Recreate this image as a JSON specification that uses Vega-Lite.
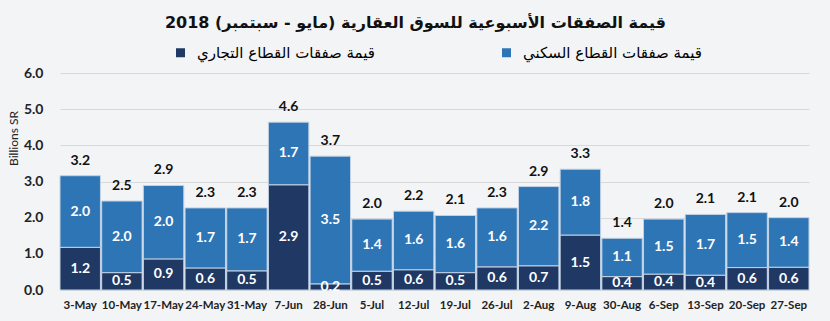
{
  "$schema": "https://vega.github.io/schema/vega-lite/v6.json",
  "width": 749,
  "height": 217,
  "autosize": {"type": "none"},
  "padding": {"left": 60, "top": 73, "right": 21, "bottom": 31},
  "background": "#f3f4f6",
  "title": {
    "text": "قيمة الصفقات الأسبوعية للسوق العقارية (مايو - سبتمبر) 2018",
    "font": "DejaVu Sans",
    "fontSize": 16,
    "fontWeight": "bold",
    "color": "#111111",
    "anchor": "middle",
    "offset": 14,
    "dx": -19
  },
  "config": {"view": {"stroke": null}},
  "data": {
    "values": [
      {"date": "3-May", "sector": "قيمة صفقات القطاع التجاري", "ord": 1, "value": 1.18},
      {"date": "3-May", "sector": "قيمة صفقات القطاع السكني", "ord": 2, "value": 1.98},
      {"date": "10-May", "sector": "قيمة صفقات القطاع التجاري", "ord": 1, "value": 0.48},
      {"date": "10-May", "sector": "قيمة صفقات القطاع السكني", "ord": 2, "value": 1.98},
      {"date": "17-May", "sector": "قيمة صفقات القطاع التجاري", "ord": 1, "value": 0.86},
      {"date": "17-May", "sector": "قيمة صفقات القطاع السكني", "ord": 2, "value": 2.03},
      {"date": "24-May", "sector": "قيمة صفقات القطاع التجاري", "ord": 1, "value": 0.61},
      {"date": "24-May", "sector": "قيمة صفقات القطاع السكني", "ord": 2, "value": 1.66},
      {"date": "31-May", "sector": "قيمة صفقات القطاع التجاري", "ord": 1, "value": 0.53},
      {"date": "31-May", "sector": "قيمة صفقات القطاع السكني", "ord": 2, "value": 1.74},
      {"date": "7-Jun", "sector": "قيمة صفقات القطاع التجاري", "ord": 1, "value": 2.91},
      {"date": "7-Jun", "sector": "قيمة صفقات القطاع السكني", "ord": 2, "value": 1.73},
      {"date": "28-Jun", "sector": "قيمة صفقات القطاع التجاري", "ord": 1, "value": 0.17},
      {"date": "28-Jun", "sector": "قيمة صفقات القطاع السكني", "ord": 2, "value": 3.53},
      {"date": "5-Jul", "sector": "قيمة صفقات القطاع التجاري", "ord": 1, "value": 0.52},
      {"date": "5-Jul", "sector": "قيمة صفقات القطاع السكني", "ord": 2, "value": 1.44},
      {"date": "12-Jul", "sector": "قيمة صفقات القطاع التجاري", "ord": 1, "value": 0.56},
      {"date": "12-Jul", "sector": "قيمة صفقات القطاع السكني", "ord": 2, "value": 1.62},
      {"date": "19-Jul", "sector": "قيمة صفقات القطاع التجاري", "ord": 1, "value": 0.48},
      {"date": "19-Jul", "sector": "قيمة صفقات القطاع السكني", "ord": 2, "value": 1.58},
      {"date": "26-Jul", "sector": "قيمة صفقات القطاع التجاري", "ord": 1, "value": 0.64},
      {"date": "26-Jul", "sector": "قيمة صفقات القطاع السكني", "ord": 2, "value": 1.63},
      {"date": "2-Aug", "sector": "قيمة صفقات القطاع التجاري", "ord": 1, "value": 0.67},
      {"date": "2-Aug", "sector": "قيمة صفقات القطاع السكني", "ord": 2, "value": 2.19},
      {"date": "9-Aug", "sector": "قيمة صفقات القطاع التجاري", "ord": 1, "value": 1.52},
      {"date": "9-Aug", "sector": "قيمة صفقات القطاع السكني", "ord": 2, "value": 1.82},
      {"date": "30-Aug", "sector": "قيمة صفقات القطاع التجاري", "ord": 1, "value": 0.37},
      {"date": "30-Aug", "sector": "قيمة صفقات القطاع السكني", "ord": 2, "value": 1.06},
      {"date": "6-Sep", "sector": "قيمة صفقات القطاع التجاري", "ord": 1, "value": 0.44},
      {"date": "6-Sep", "sector": "قيمة صفقات القطاع السكني", "ord": 2, "value": 1.52},
      {"date": "13-Sep", "sector": "قيمة صفقات القطاع التجاري", "ord": 1, "value": 0.41},
      {"date": "13-Sep", "sector": "قيمة صفقات القطاع السكني", "ord": 2, "value": 1.68},
      {"date": "20-Sep", "sector": "قيمة صفقات القطاع التجاري", "ord": 1, "value": 0.62},
      {"date": "20-Sep", "sector": "قيمة صفقات القطاع السكني", "ord": 2, "value": 1.52},
      {"date": "27-Sep", "sector": "قيمة صفقات القطاع التجاري", "ord": 1, "value": 0.63},
      {"date": "27-Sep", "sector": "قيمة صفقات القطاع السكني", "ord": 2, "value": 1.37}
    ]
  },
  "transform": [
    {"stack": "value", "groupby": ["date"], "sort": [{"field": "ord"}], "as": ["v0", "v1"]},
    {"calculate": "(datum.v0 + datum.v1) / 2", "as": "mid"}
  ],
  "encoding": {
    "x": {
      "field": "date",
      "type": "nominal",
      "sort": ["3-May", "10-May", "17-May", "24-May", "31-May", "7-Jun", "28-Jun", "5-Jul", "12-Jul", "19-Jul", "26-Jul", "2-Aug", "9-Aug", "30-Aug", "6-Sep", "13-Sep", "20-Sep", "27-Sep"],
      "scale": {"paddingInner": 0.03, "paddingOuter": 0},
      "axis": {
        "title": null,
        "labelAngle": 0,
        "labelFont": "Lato",
        "labelFontWeight": "bold",
        "labelFontSize": 11.5,
        "labelColor": "#222222",
        "labelPadding": 9,
        "domain": false,
        "ticks": false
      }
    }
  },
  "layer": [
    {
      "mark": {"type": "bar", "stroke": "#c2d2e4", "strokeWidth": 1},
      "encoding": {
        "y": {
          "field": "v1",
          "type": "quantitative",
          "scale": {"domain": [0, 6], "nice": false},
          "axis": {
            "values": [0, 1, 2, 3, 4, 5, 6],
            "tickCount": 7,
            "format": ".1f",
            "labelOverlap": false,
            "title": "Billions SR",
            "titleFont": "Lato",
            "titleFontSize": 12,
            "titleFontWeight": "normal",
            "titleColor": "#222222",
            "titleAngle": -90,
            "titleAlign": "center",
            "titleBaseline": "bottom",
            "titleX": -40,
            "titleY": 65,
            "labelFont": "Lato",
            "labelFontWeight": "bold",
            "labelFontSize": 14,
            "labelColor": "#222222",
            "labelPadding": 17,
            "domain": false,
            "ticks": false,
            "gridColor": "#d9d9d9"
          }
        },
        "y2": {"field": "v0"},
        "color": {
          "field": "sector",
          "type": "nominal",
          "scale": {
            "domain": ["قيمة صفقات القطاع التجاري", "قيمة صفقات القطاع السكني"],
            "range": ["#1f3864", "#2e75b6"]
          },
          "legend": {
            "title": null,
            "orient": "none",
            "direction": "horizontal",
            "legendX": 113,
            "legendY": -28,
            "symbolType": "square",
            "symbolSize": 81,
            "symbolStrokeWidth": 0,
            "labelFont": "DejaVu Sans",
            "labelFontSize": 15,
            "labelOffset": 9,
            "columnPadding": 124,
            "labelLimit": 300,
            "encode": {
              "labels": {
                "update": {
                  "fill": {"signal": "datum.index === 1 ? '#2e75b6' : '#1f3864'"}
                }
              }
            }
          }
        }
      }
    },
    {
      "mark": {"type": "text", "color": "white", "font": "Lato", "fontWeight": "bold", "fontSize": 14, "baseline": "middle"},
      "encoding": {
        "y": {"field": "mid", "type": "quantitative"},
        "text": {"field": "value", "type": "quantitative", "format": ".1f"}
      }
    },
    {
      "transform": [
        {"aggregate": [{"op": "sum", "field": "value", "as": "total"}], "groupby": ["date"]}
      ],
      "mark": {"type": "text", "color": "#111111", "font": "Lato", "fontWeight": "bold", "fontSize": 14, "baseline": "bottom", "dy": -8},
      "encoding": {
        "y": {"field": "total", "type": "quantitative"},
        "text": {"field": "total", "type": "quantitative", "format": ".1f"}
      }
    }
  ]
}
